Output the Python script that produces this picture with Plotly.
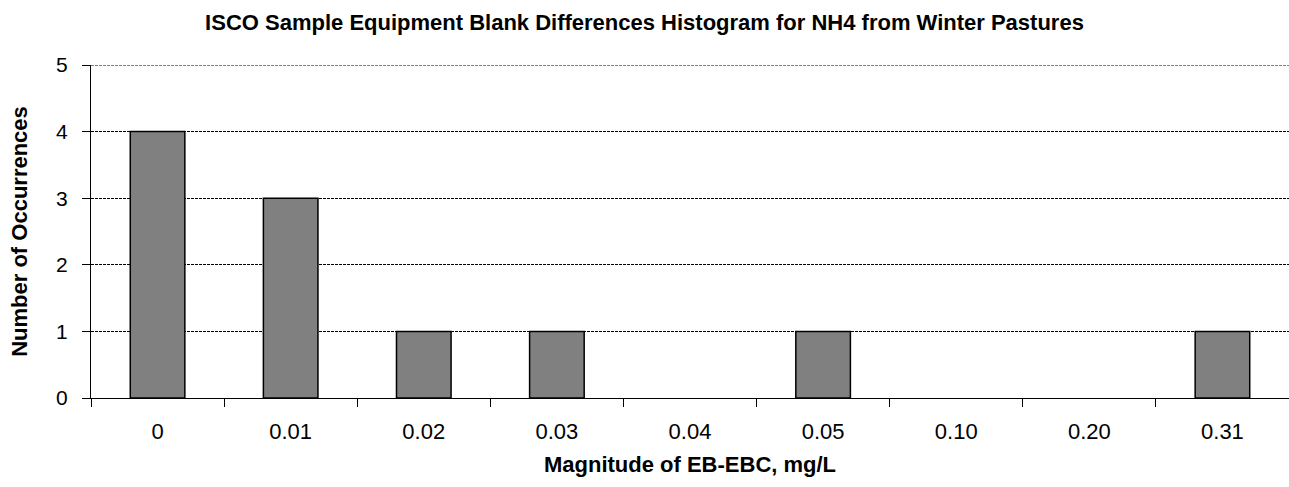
import plotly.graph_objects as go

categories = ["0", "0.01", "0.02", "0.03", "0.04", "0.05", "0.10", "0.20", "0.31"]
occurrences = [4, 3, 1, 1, 0, 1, 0, 0, 1]
y_max = 5

font_family = "Liberation Sans, Arial, sans-serif"

# empty bins draw no bar (avoid a zero-height outline)
bar_values = [v if v > 0 else None for v in occurrences]

fig = go.Figure(
    go.Bar(
        x=categories,
        y=bar_values,
        width=0.41,
        marker=dict(color="#808080", line=dict(color="black", width=1.5)),
        hoverinfo="x+y",
    )
)

fig.update_layout(
    width=1289,
    height=487,
    margin=dict(l=91, r=0, t=65, b=89),
    paper_bgcolor="white",
    plot_bgcolor="white",
    showlegend=False,
    font=dict(family=font_family, size=20, color="black"),
    title=dict(
        text="<b>ISCO Sample Equipment Blank Differences Histogram for NH4 from Winter Pastures</b>",
        x=0.5,
        xanchor="center",
        y=0.954,
        yanchor="middle",
        font=dict(family=font_family, size=22, color="black"),
    ),
)

# top gridline (at the upper edge of the value range)
fig.add_shape(
    type="line", xref="paper", yref="y", x0=0, x1=1, y0=y_max, y1=y_max,
    line=dict(color="black", width=1, dash="3px,1px"), layer="below",
)

fig.update_xaxes(
    type="category",
    tickson="boundaries",
    ticks="outside",
    ticklen=8,
    tickcolor="black",
    showline=True,
    linecolor="black",
    linewidth=1,
    showgrid=False,
    ticklabelstandoff=14,
    tickfont=dict(family=font_family, size=22, color="black"),
    title=dict(
        text="<b>Magnitude of EB-EBC, mg/L</b>",
        font=dict(family=font_family, size=22, color="black"),
        standoff=13,
    ),
)

fig.update_yaxes(
    range=[0, y_max],
    dtick=1,
    ticks="outside",
    ticklen=8,
    tickcolor="black",
    showline=True,
    linecolor="black",
    linewidth=1,
    showgrid=True,
    gridcolor="black",
    gridwidth=1,
    griddash="3px,1px",
    zeroline=False,
    ticklabelstandoff=10,
    tickfont=dict(family=font_family, size=21, color="black"),
    title=dict(
        text="<b>Number of Occurrences</b>",
        font=dict(family=font_family, size=22, color="black"),
        standoff=22,
    ),
)

fig.write_html("out.html")
